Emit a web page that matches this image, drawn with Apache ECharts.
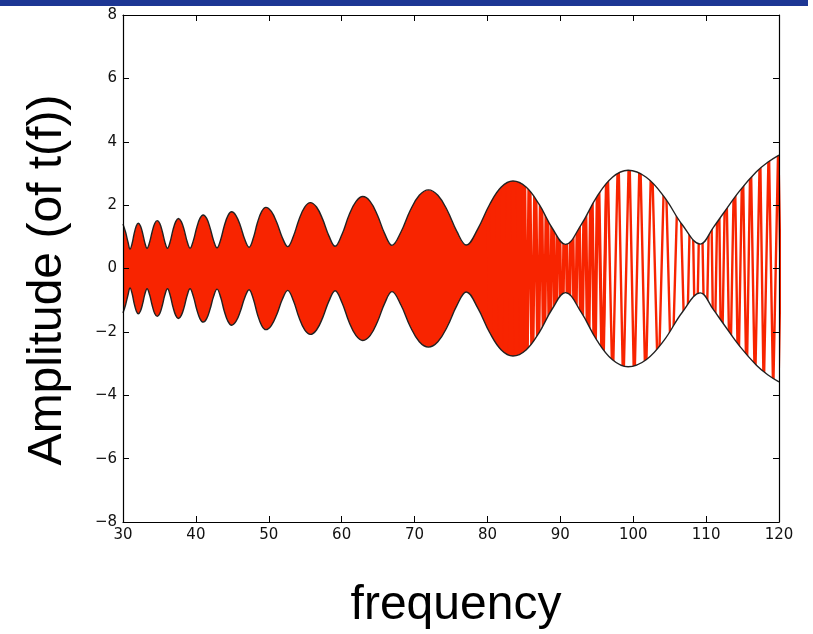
<!DOCTYPE html>
<html>
<head>
<meta charset="utf-8">
<title>Amplitude (of t(f))</title>
<script src="https://cdn.jsdelivr.net/npm/echarts@6.0.0/dist/echarts.min.js"></script>
<style>
    html, body { margin: 0; padding: 0; background: #fff; }
    #chart { width: 813px; height: 634px; }
</style>
</head>
<body>
<div id="chart"></div>
<script>
// envelope (upper half; the lower one is its mirror)
var envFreq = [30.0, 30.35, 30.7, 30.96, 31.25, 31.53, 31.82, 32.1, 32.4, 32.7, 33.0, 33.3,
    33.65, 34.0, 34.35, 34.7, 35.05, 35.4, 35.75, 36.1, 36.48, 36.85, 37.23, 37.6,
    38.0, 38.4, 38.8, 39.2, 39.65, 40.1, 40.55, 41.0, 41.48, 41.95, 42.43, 42.9,
    43.4, 43.9, 44.4, 44.9, 45.5, 46.1, 46.7, 47.3, 47.88, 48.45, 49.03, 49.6,
    50.35, 51.1, 51.85, 52.6, 53.38, 54.15, 54.93, 55.7, 56.55, 57.4, 58.25, 59.1,
    60.05, 61.0, 61.95, 62.9, 63.9, 64.9, 65.9, 66.9, 68.15, 69.4, 70.65, 71.9,
    73.2, 74.5, 75.8, 77.1, 78.7, 80.3, 81.9, 83.5, 85.3, 87.1, 88.9, 90.7,
    92.85, 95.0, 97.15, 99.3, 101.78, 104.25, 106.73, 109.2, 111.0, 112.3, 114.6, 116.9,
    118.5, 120.0];
var envAmp = [1.40, 1.15, 0.82, 0.61, 0.79, 1.10, 1.34, 1.43, 1.34, 1.11, 0.81, 0.64,
    0.83, 1.16, 1.42, 1.51, 1.42, 1.16, 0.83, 0.64, 0.85, 1.21, 1.48, 1.58,
    1.48, 1.21, 0.85, 0.64, 0.88, 1.28, 1.58, 1.69, 1.58, 1.28, 0.88, 0.65,
    0.91, 1.35, 1.67, 1.79, 1.67, 1.35, 0.92, 0.67, 0.96, 1.45, 1.80, 1.93,
    1.80, 1.45, 0.98, 0.69, 1.02, 1.55, 1.94, 2.08, 1.94, 1.55, 1.03, 0.70,
    1.08, 1.68, 2.11, 2.27, 2.12, 1.69, 1.10, 0.73, 1.16, 1.83, 2.31, 2.48,
    2.31, 1.83, 1.17, 0.74, 1.26, 2.02, 2.57, 2.76, 2.57, 2.02, 1.27, 0.76,
    1.38, 2.26, 2.88, 3.10, 2.88, 2.26, 1.38, 0.77, 1.30, 1.72, 2.45, 3.05,
    3.36, 3.58];

// where the red trace touches the envelope, once the wiggles get readable
var topTips = [80.0, 80.72, 81.44, 82.16, 82.88, 83.6, 84.32, 85.04, 85.76, 86.56, 87.36,
    88.16, 88.96, 89.76, 90.66, 91.56, 92.46, 93.36, 94.26, 95.16, 96.43, 97.94, 99.45,
    100.92, 102.52, 104.35, 106.27, 108.0, 109.25, 110.6, 111.7, 112.7, 113.9, 115.0,
    116.1, 117.4, 118.6, 119.9];
var bottomTips = [80.36, 81.08, 81.8, 82.52, 83.24, 83.96, 84.68, 85.4, 86.16, 86.96,
    87.76, 88.56, 89.36, 90.21, 91.11, 92.01, 92.91, 93.81, 94.71, 95.8, 97.17, 98.63,
    100.14, 101.7, 103.43, 105.27, 107.23, 108.6, 109.9, 111.07, 112.1, 113.27, 114.4,
    115.55, 116.7, 117.9, 119.2, 120.5];

var xTicks = { min: 30, max: 120, step: 10 };
var yTicks = { min: -8, max: 8, step: 2 };
var solidUntil = 85.4;   // left of this the trace is too dense: plain fill
var denseUntil = 96.5;   // thicker strokes up to here
var tipAmp = 4;          // goes past the envelope, the white masks trim it

var red = '#f82400';
var upper = envFreq.map(function (f, i) { return [f, envAmp[i]]; });
var lower = envFreq.map(function (f, i) { return [f, -envAmp[i]]; });
var solid = upper.filter(function (p) { return p[0] <= solidUntil; });
var tips = topTips.map(function (f) { return [f, tipAmp]; })
    .concat(bottomTips.map(function (f) { return [f, -tipAmp]; }))
    .sort(function (a, b) { return a[0] - b[0]; });
var tipsDense = tips.filter(function (p) { return p[0] <= denseUntil; });
var tipsSparse = tips.filter(function (p) { return p[0] >= 95.5; });

var minus = function (v) { return v < 0 ? '\u2212' + (-v) : '' + v; };
var tickFont = { color: '#111', fontSize: 15, fontFamily: 'DejaVu Sans' };
var smooth = 0.4;

function xAx(pos, labels) {
    return {
        type: 'value', position: pos, min: xTicks.min, max: xTicks.max, interval: xTicks.step,
        z: 10,
        axisLine: { show: true, onZero: false, lineStyle: { color: '#000', width: 1.2 } },
        axisTick: { show: true, inside: true, length: 6, lineStyle: { color: '#000' } },
        axisLabel: Object.assign({ show: labels, margin: 6 }, tickFont),
        splitLine: { show: false }
    };
}
function yAx(pos, labels) {
    return {
        type: 'value', position: pos, min: yTicks.min, max: yTicks.max, interval: yTicks.step,
        z: 10,
        axisLine: { show: true, onZero: false, lineStyle: { color: '#000', width: 1.2 } },
        axisTick: { show: true, inside: true, length: 6, lineStyle: { color: '#000' } },
        axisLabel: Object.assign({ show: labels, margin: 6, formatter: minus }, tickFont),
        splitLine: { show: false }
    };
}

var chart = echarts.init(document.getElementById('chart'));
chart.setOption({
    animation: false,
    backgroundColor: '#fff',
    grid: { left: 123, right: 34, top: 15, bottom: 112 },
    xAxis: [xAx('bottom', true), xAx('top', false)],
    yAxis: [yAx('left', true), yAx('right', false)],
    graphic: [
        { type: 'rect', shape: { x: 0, y: 0, width: 808, height: 6 }, style: { fill: '#1d3694' } },
        {
            type: 'text', x: 48, y: 280, rotation: Math.PI / 2,
            style: {
                text: 'Amplitude (of t(f))', fill: '#000', font: '48px "Liberation Sans"',
                textAlign: 'center', textVerticalAlign: 'middle'
            }
        },
        {
            type: 'text', x: 456, y: 606,
            style: {
                text: 'frequency', fill: '#000', font: '48px "Liberation Sans"',
                textAlign: 'center', textVerticalAlign: 'middle'
            }
        }
    ],
    series: [
        {
            name: 'solid', type: 'line', data: solid, smooth: smooth, showSymbol: false,
            lineStyle: { width: 0 }, areaStyle: { color: red, opacity: 1, origin: 'start' }, z: 2
        },
        {
            name: 'traceDense', type: 'line', data: tipsDense, showSymbol: false,
            lineStyle: { color: red, width: 3.2 }, z: 2
        },
        {
            name: 'traceSparse', type: 'line', data: tipsSparse, showSymbol: false,
            lineStyle: { color: red, width: 2.4 }, z: 2
        },
        {
            name: 'maskTop', type: 'line', data: upper, smooth: smooth, showSymbol: false,
            lineStyle: { width: 0 }, areaStyle: { color: '#fff', opacity: 1, origin: 'end' }, z: 3
        },
        {
            name: 'maskBottom', type: 'line', data: lower, smooth: smooth, showSymbol: false,
            lineStyle: { width: 0 }, areaStyle: { color: '#fff', opacity: 1, origin: 'start' }, z: 3
        },
        {
            name: 'envTop', type: 'line', data: upper, smooth: smooth, showSymbol: false,
            lineStyle: { color: '#222', width: 1.4 }, z: 4
        },
        {
            name: 'envBottom', type: 'line', data: lower, smooth: smooth, showSymbol: false,
            lineStyle: { color: '#222', width: 1.4 }, z: 4
        }
    ]
});
</script>
</body>
</html>
